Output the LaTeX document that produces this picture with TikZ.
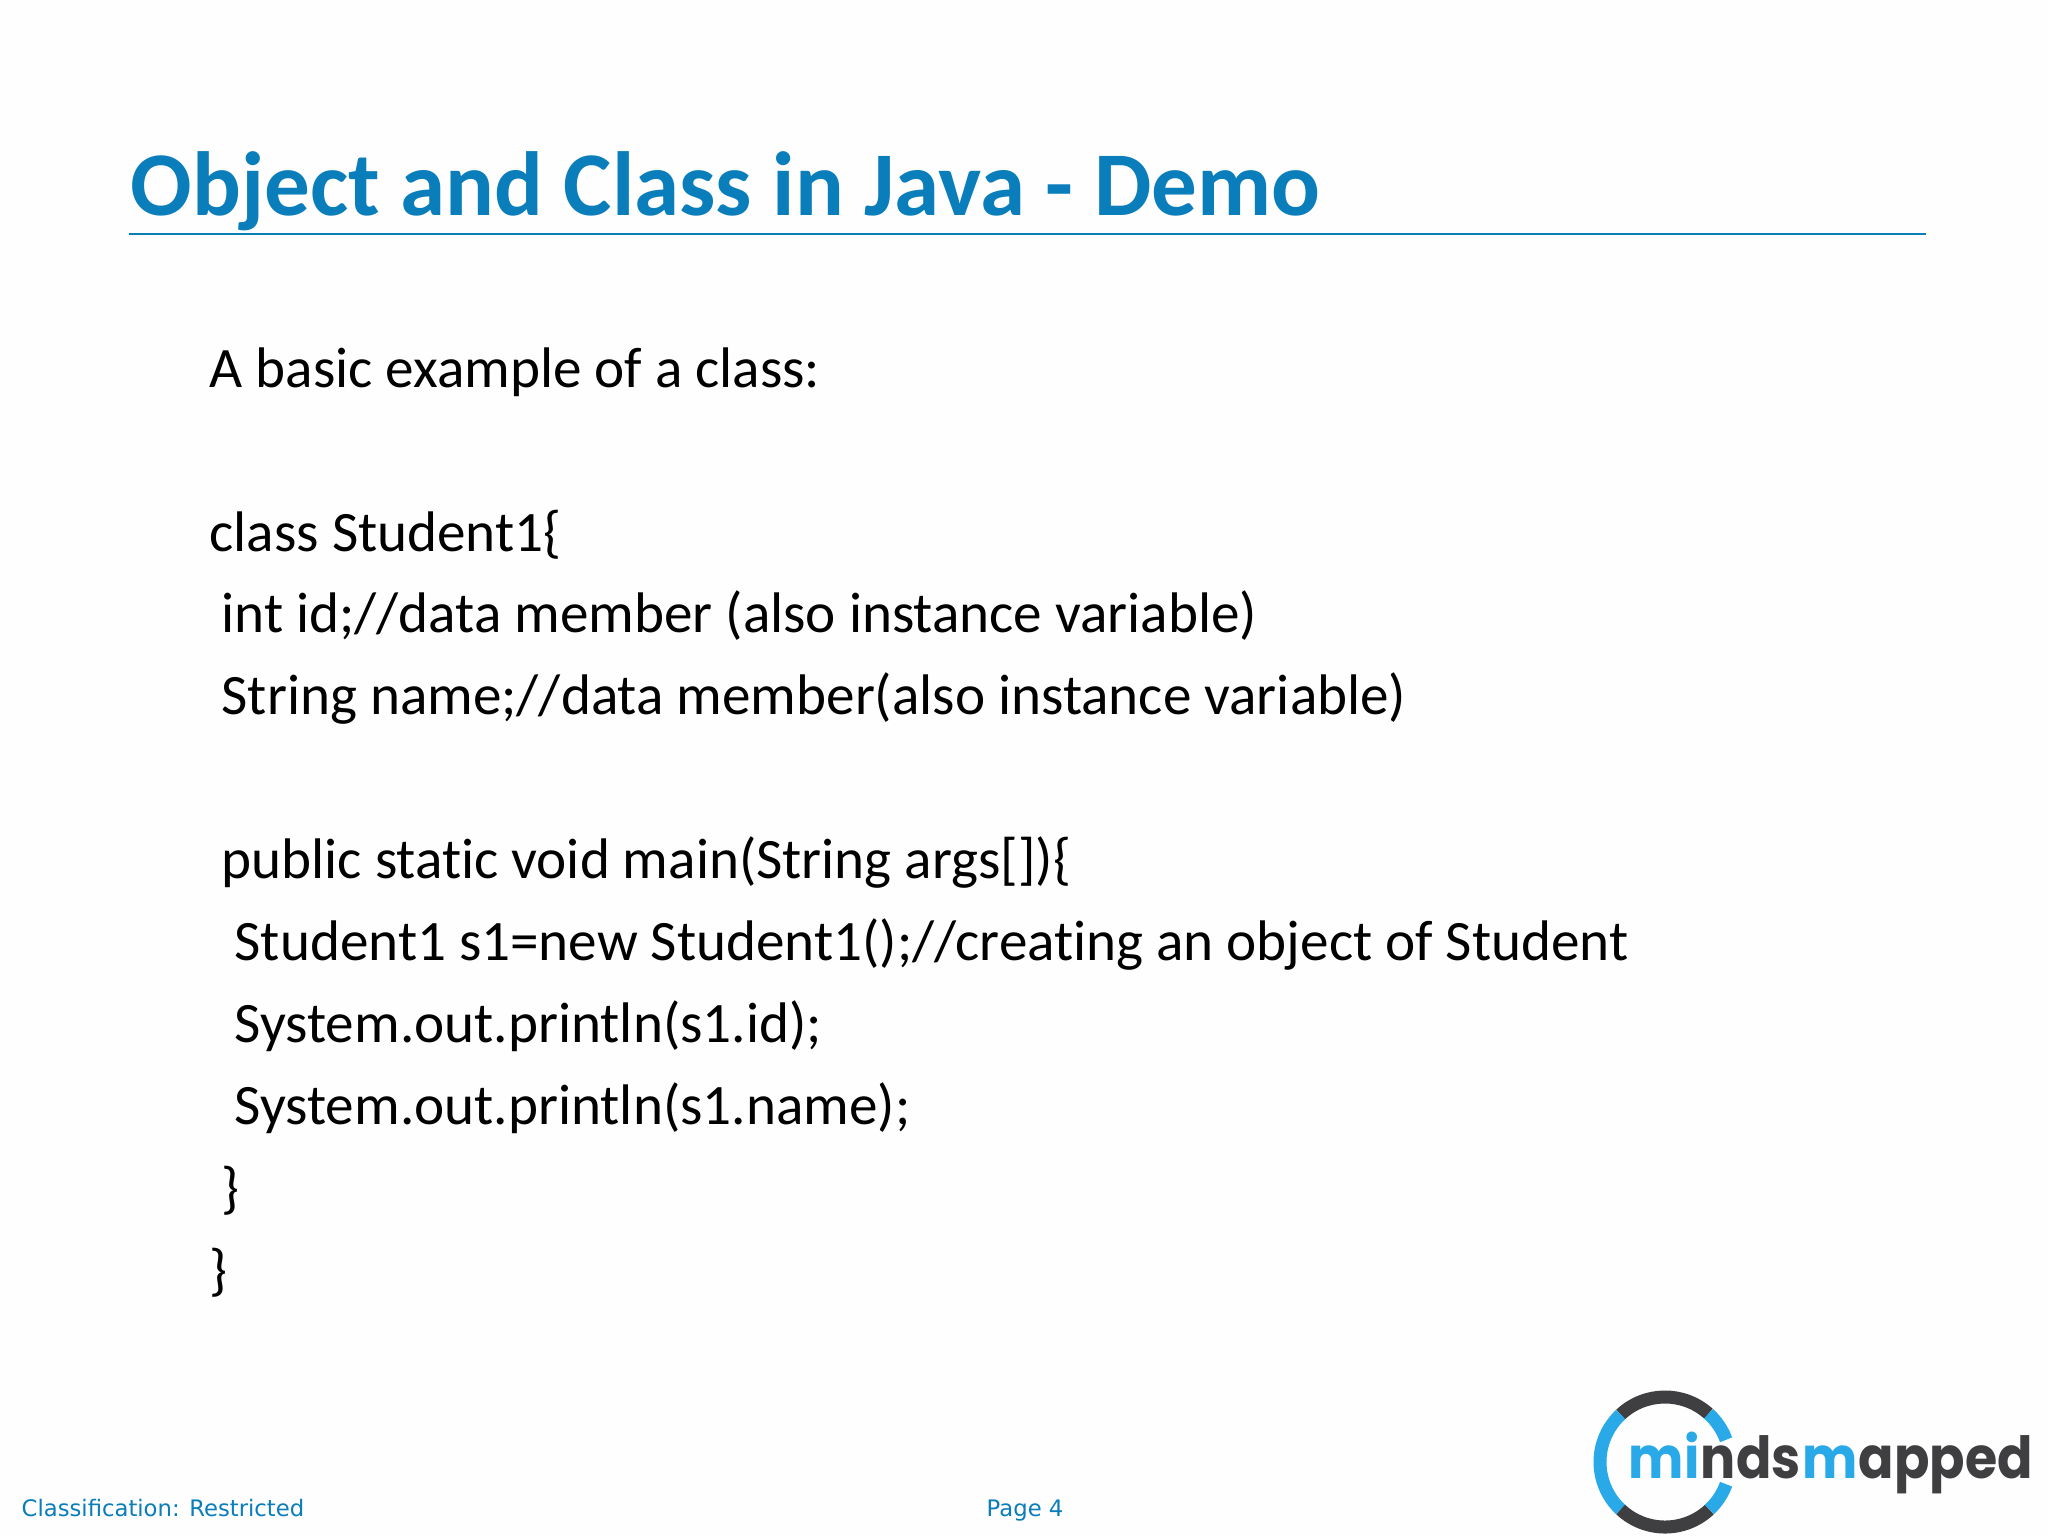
\documentclass[tikz,border=0pt]{standalone}
\usepackage{fontspec}
\setmainfont{Carlito}[Ligatures=NoCommon]
\newfontfamily\footfont{DejaVu Sans}
\newfontfamily\logofont{Poppins}[FakeStretch=0.9]
\usetikzlibrary{positioning}

\definecolor{titleblue}{HTML}{0A7DBB}
\definecolor{logoblue}{HTML}{29A9E8}
\definecolor{logodark}{HTML}{3F3F42}

\begin{document}
\begin{tikzpicture}[
    x=0.01cm, y=-0.01cm,
    slidetitle/.style={anchor=base west, inner sep=0pt, text=titleblue, font=\fontsize{25.9pt}{30pt}\selectfont\bfseries},
    codeline/.style={anchor=base west, inner sep=0pt, text=black, font=\fontsize{16.26pt}{19pt}\selectfont},
    footer/.style={anchor=base west, inner sep=0pt, text=titleblue, font=\fontsize{6.46pt}{8pt}\footfont},
    logotext/.style={inner sep=0pt, font=\fontsize{16.5pt}{20pt}\logofont\bfseries},
    logoring/.style={line width=0.13cm}
  ]

    \useasboundingbox (0,0) rectangle (2048,1536);
    \fill[white!99.5!black] (0,0) rectangle (2048,1536);

    % heading
    \node[slidetitle] (title) at (130,215) {Object and Class in Java - Demo};
    \coordinate (ruleL) at (129,234);
    \coordinate (ruleR) at (1926,234);
    \draw[titleblue, line width=0.02cm] (ruleL) -- (ruleR);

    % code
    \node[codeline] (intro) at (209,387) {A basic example of a class:};
    \node[codeline] (cls) at (209,551) {class Student1\{};
    \node[codeline] (id) at (221,632) {int id;//data member (also instance variable)};
    \node[codeline] (name) at (221,714) {String name;//data member(also instance variable)};
    \node[codeline] (main) at (221,878) {public static void main(String args[])\{};
    \node[codeline] (obj) at (234,960) {Student1 s1=new Student1();//creating an object of Student};
    \node[codeline] (prid) at (234,1042) {System.out.println(s1.id);};
    \node[codeline] (prname) at (234,1124) {System.out.println(s1.name);};
    \node[codeline] (endmain) at (221,1207) {\}};
    \node[codeline] (endcls) at (209,1289) {\}};

    % footer
    \node[footer] (classif) at (21,1516) {Classification: Restricted};
    \node[footer] (page) at (986,1516) {Page 4};

    % logo
    \coordinate (ring) at (1665,1462);
    \foreach \from/\to/\col in {48/133/logodark, 133/227/logoblue, 227/313/logodark, 313/340/logoblue, 20/48/logoblue}
      \draw[logoring, \col] ([shift={(-\from:65)}]ring) arc[start angle=\from, end angle=\to, radius=0.65cm];
    \node[logotext, anchor=base west, text=logoblue] (logoA) at (1628,1478) {mi};
    \node[logotext, base right=0pt of logoA, text=logodark] (logoB) {nds};
    \node[logotext, base right=0pt of logoB, text=logoblue] (logoC) {m};
    \node[logotext, base right=0pt of logoC, text=logodark] (logoD) {apped};
  \end{tikzpicture}
\end{document}
